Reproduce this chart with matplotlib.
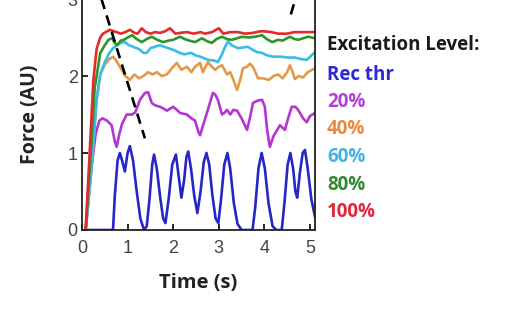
import matplotlib
matplotlib.use("Agg")
import matplotlib.pyplot as plt

# ---------------- data ----------------
rec_t = [0.08, 0.68, 0.72, 0.78, 0.83, 0.88, 0.94, 1.0, 1.05, 1.12, 1.2, 1.28, 1.36, 1.42, 1.48, 1.54, 1.58,
         1.64, 1.72, 1.78, 1.83, 1.9, 1.98, 2.06, 2.12, 2.18, 2.24, 2.29, 2.33, 2.39, 2.46, 2.53, 2.6, 2.67,
         2.73, 2.79, 2.86, 2.93, 2.99, 3.05, 3.12, 3.19, 3.25, 3.33, 3.41, 3.5, 3.74, 3.8, 3.87, 3.94, 4.01,
         4.09, 4.18, 4.26, 4.38, 4.44, 4.51, 4.57, 4.63, 4.68, 4.72, 4.78, 4.84, 4.89, 4.95, 5.03, 5.11]
rec_f = [0.0, 0.0, 0.45, 0.9, 1.0, 0.9, 0.76, 1.0, 1.09, 0.9, 0.5, 0.15, 0.0, 0.05, 0.4, 0.85, 0.98,
         0.8, 0.4, 0.15, 0.09, 0.4, 0.85, 0.98, 0.7, 0.42, 0.65, 0.95, 1.02, 0.8, 0.45, 0.22, 0.5, 0.88,
         1.0, 0.85, 0.45, 0.15, 0.09, 0.4, 0.85, 1.0, 0.8, 0.35, 0.08, 0.0, 0.0, 0.3, 0.8, 1.0, 0.8,
         0.35, 0.05, 0.0, 0.0, 0.35, 0.85, 1.0, 0.8, 0.5, 0.42, 0.75, 1.0, 1.04, 0.8, 0.4, 0.17]

p20_t = [0.08, 0.21, 0.3, 0.38, 0.45, 0.55, 0.65, 0.72, 0.76, 0.82, 0.88, 0.98, 1.1, 1.17, 1.27, 1.33, 1.38,
         1.45, 1.53, 1.6, 1.71, 1.78, 1.86, 2.0, 2.08, 2.15, 2.3, 2.4, 2.48, 2.55, 2.59, 2.65, 2.76, 2.87,
         2.92, 2.98, 3.07, 3.12, 3.18, 3.25, 3.32, 3.4, 3.5, 3.62, 3.68, 3.75, 3.85, 3.95, 4.01, 4.06, 4.12,
         4.2, 4.28, 4.34, 4.45, 4.52, 4.6, 4.68, 4.74, 4.85, 4.93, 5.0, 5.11]
p20_f = [0.0, 0.82, 1.25, 1.42, 1.45, 1.42, 1.36, 1.15, 1.08, 1.25, 1.38, 1.5, 1.5, 1.53, 1.69, 1.74, 1.78,
         1.79, 1.65, 1.62, 1.6, 1.58, 1.55, 1.6, 1.56, 1.52, 1.5, 1.45, 1.42, 1.28, 1.23, 1.35, 1.56, 1.78,
         1.76, 1.69, 1.5, 1.52, 1.56, 1.5, 1.56, 1.55, 1.45, 1.3, 1.45, 1.65, 1.68, 1.69, 1.6, 1.3, 1.08,
         1.22, 1.3, 1.36, 1.3, 1.45, 1.6, 1.6, 1.56, 1.45, 1.4, 1.48, 1.52]

p40_t = [0.08, 0.21, 0.32, 0.4, 0.5, 0.6, 0.68, 0.75, 0.85, 0.95, 1.05, 1.15, 1.25, 1.35, 1.45, 1.55, 1.64,
         1.75, 1.86, 1.97, 2.08, 2.18, 2.3, 2.4, 2.48, 2.59, 2.65, 2.76, 2.85, 2.92, 3.0, 3.07, 3.18, 3.25,
         3.32, 3.4, 3.47, 3.53, 3.62, 3.68, 3.75, 3.86, 3.97, 4.1, 4.2, 4.3, 4.4, 4.5, 4.56, 4.62, 4.67,
         4.75, 4.85, 4.95, 5.11]
p40_f = [0.0, 0.82, 1.69, 2.02, 2.15, 2.22, 2.25, 2.2, 2.1, 2.0, 1.95, 2.02, 1.97, 2.0, 2.05, 2.02, 2.05,
         2.0, 2.02, 2.1, 2.17, 2.08, 2.12, 2.05, 2.12, 2.17, 2.05, 2.18, 2.12, 2.08, 2.12, 2.14, 2.02, 2.05,
         1.95, 1.82, 1.95, 2.1, 2.12, 2.16, 2.12, 1.97, 1.97, 1.95, 2.0, 2.02, 1.97, 2.05, 2.14, 2.05, 1.96,
         2.0, 1.98, 2.05, 2.1]

p60_t = [0.08, 0.21, 0.32, 0.4, 0.5, 0.6, 0.68, 0.76, 0.85, 0.94, 1.03, 1.12, 1.25, 1.35, 1.42, 1.5, 1.6,
         1.71, 1.8, 1.9, 2.0, 2.15, 2.25, 2.3, 2.4, 2.48, 2.6, 2.76, 2.9, 2.98, 3.06, 3.14, 3.2, 3.28, 3.35,
         3.42, 3.52, 3.64, 3.74, 3.84, 3.95, 4.05, 4.2, 4.38, 4.5, 4.67, 4.8, 4.93, 5.02, 5.11]
p60_f = [0.0, 0.82, 1.69, 2.02, 2.18, 2.3, 2.36, 2.4, 2.43, 2.44, 2.4, 2.38, 2.35, 2.3, 2.3, 2.36, 2.38,
         2.4, 2.38, 2.36, 2.34, 2.3, 2.28, 2.29, 2.3, 2.27, 2.25, 2.21, 2.2, 2.18, 2.27, 2.38, 2.45, 2.4, 2.38,
         2.36, 2.37, 2.38, 2.34, 2.31, 2.3, 2.27, 2.25, 2.25, 2.24, 2.24, 2.22, 2.21, 2.26, 2.31]

p80_t = [0.08, 0.18, 0.28, 0.4, 0.5, 0.58, 0.66, 0.72, 0.77, 0.85, 0.92, 1.0, 1.1, 1.2, 1.31, 1.42, 1.53,
         1.65, 1.78, 1.9, 2.0, 2.15, 2.25, 2.35, 2.48, 2.63, 2.75, 2.85, 2.95, 3.07, 3.18, 3.29, 3.4, 3.51,
         3.65, 3.8, 3.95, 4.05, 4.17, 4.3, 4.4, 4.56, 4.66, 4.74, 4.85, 4.96, 5.11]
p80_f = [0.0, 0.9, 1.85, 2.3, 2.4, 2.47, 2.49, 2.43, 2.4, 2.46, 2.47, 2.5, 2.53, 2.48, 2.44, 2.48, 2.51,
         2.47, 2.44, 2.46, 2.47, 2.51, 2.48, 2.46, 2.44, 2.49, 2.45, 2.43, 2.48, 2.51, 2.48, 2.47, 2.49, 2.51,
         2.5, 2.51, 2.53, 2.48, 2.44, 2.47, 2.46, 2.51, 2.48, 2.47, 2.49, 2.51, 2.49]

p100_t = [0.08, 0.15, 0.25, 0.32, 0.4, 0.46, 0.55, 0.61, 0.7, 0.76, 0.85, 0.95, 1.05, 1.15, 1.22, 1.31, 1.4,
          1.5, 1.6, 1.71, 1.82, 1.93, 2.05, 2.15, 2.3, 2.45, 2.6, 2.7, 2.85, 3.0, 3.1, 3.25, 3.42, 3.58,
          3.75, 3.9, 4.0, 4.15, 4.3, 4.5, 4.66, 4.8, 5.0, 5.11]
p100_f = [0.0, 0.8, 1.95, 2.35, 2.5, 2.55, 2.58, 2.6, 2.58, 2.57, 2.55, 2.57, 2.6, 2.56, 2.55, 2.62, 2.57,
          2.55, 2.57, 2.56, 2.58, 2.62, 2.55, 2.56, 2.57, 2.55, 2.57, 2.55, 2.57, 2.62, 2.55, 2.57, 2.57, 2.55,
          2.56, 2.58, 2.58, 2.57, 2.55, 2.55, 2.57, 2.57, 2.57, 2.57]

dash_left_t = [0.40, 1.38]
dash_left_f = [3.05, 1.19]
dash_right_t = [4.58, 4.72]
dash_right_f = [2.80, 3.08]

legend_title = "Excitation Level:"
labels = ["Rec thr", "20%", "40%", "60%", "80%", "100%"]
x_ticks = [0, 1, 2, 3, 4, 5]
y_ticks = [0, 1, 2, 3]

# ---------------- style ----------------
line_colors = ["#2626c4", "#b535d2", "#e39a48", "#38bde6", "#2a962a", "#e52a2a"]
text_colors = ["#2b2bd6", "#b53fd9", "#ea8a40", "#45b2e4", "#2e8b2e", "#e0283a"]
FONT = "Open Sans"

fig = plt.figure(figsize=(5.14, 3.21), dpi=100)
ax = fig.add_axes([82 / 514, 91 / 321, 233 / 514, 231 / 321])

series = [(rec_t, rec_f), (p20_t, p20_f), (p40_t, p40_f), (p60_t, p60_f), (p80_t, p80_f), (p100_t, p100_f)]
for (t, f), c in zip(series, line_colors):
    ax.plot(t, f, color=c, lw=1.9, solid_joinstyle="round")

ax.plot(dash_left_t, dash_left_f, color="black", lw=1.9, dashes=(4, 2.5))
ax.plot(dash_right_t, dash_right_f, color="black", lw=1.9, dashes=(4, 2.5))

ax.set_xlim(0, 5.11)
ax.set_ylim(0, 3)
ax.set_xticks(x_ticks)
ax.set_yticks(y_ticks)
ax.tick_params(direction="in", length=4, width=1.2, labelsize=13, labelcolor="#444444")
ax.tick_params(axis="x", pad=7)
ax.tick_params(axis="y", pad=3)
for lab in ax.get_xticklabels() + ax.get_yticklabels():
    lab.set_fontfamily("Liberation Sans")
for s in ax.spines.values():
    s.set_linewidth(1.3)
    s.set_color("#222222")

ax.set_xlabel("Time (s)", fontsize=14.5, fontweight="bold", fontfamily=FONT, color="#222222", labelpad=12)
ax.set_ylabel("Force (AU)", fontsize=14, fontweight="bold", fontfamily=FONT, color="#222222", labelpad=20)

fig.text(327 / 514, 1 - 45 / 321, legend_title, fontsize=13.5, fontweight="bold", fontfamily=FONT,
         color="#1a1a1a", va="center", ha="left")
ys = [75, 102, 129, 157, 185, 212]
for lab, c, y in zip(labels, text_colors, ys):
    fig.text(327 / 514, 1 - y / 321, lab, fontsize=13.5, fontweight="bold", fontfamily=FONT,
             color=c, va="center", ha="left")

fig.savefig("out.png", dpi=100, facecolor="white")
